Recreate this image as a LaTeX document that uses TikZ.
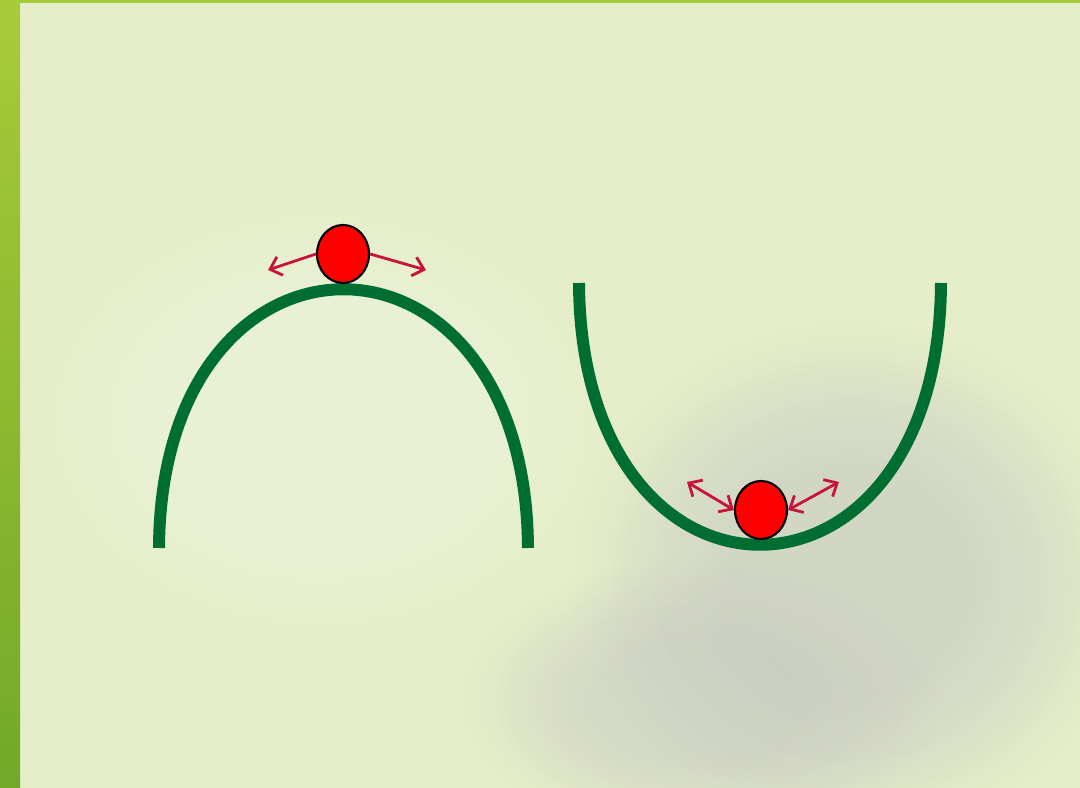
\documentclass[tikz,border=0pt]{standalone}
\usetikzlibrary{shapes.geometric,arrows.meta,fadings}
\definecolor{bgc}{HTML}{E5EEC9}
\definecolor{greyc}{HTML}{C9CBC3}
\definecolor{stripc}{HTML}{A8CB3A}
\definecolor{curvec}{HTML}{006E30}
\definecolor{arrc}{HTML}{C8143C}
\tikzset{
  curve/.style={draw=curvec, line width=12*0.02cm},
  ball/.style={ellipse, draw=black, line width=1.2pt, fill=red, minimum width=52*0.02cm, minimum height=58*0.02cm, inner sep=0pt},
  arr/.style={draw=arrc, line width=1.6pt, -{Straight Barb[length=6pt,width=11pt,line width=1.6pt]}},
  darr/.style={draw=arrc, line width=1.6pt, {Straight Barb[length=6pt,width=11pt,line width=1.6pt]}-{Straight Barb[length=6pt,width=11pt,line width=1.6pt]}},
  blob/.style={path fading=circle with fuzzy edge 20 percent}
}
\begin{document}
\begin{tikzpicture}[x=0.02cm,y=-0.02cm]
\useasboundingbox (0,0) rectangle (1080,788);
\fill[bgc] (0,0) rectangle (1080,788);
\foreach \s in {1.0,0.85,0.7,0.55} {
  \fill[greyc, blob, fill opacity=0.22] (850,580) ellipse ({280*\s} and {260*\s});
  \fill[greyc, blob, fill opacity=0.18] (700,700) ellipse ({240*\s} and {140*\s});
  \fill[white, blob, fill opacity=0.07] (320,420) ellipse ({300*\s} and {230*\s});
}
\fill[stripc] (0,0) rectangle (1080,3);
\shade[top color=stripc, bottom color=stripc!85!green!80!black] (0,0) rectangle (20,788);
% arch
\draw[curve] (159,548) .. controls (161,203) and (526,203) .. (528,548);
% valley
\draw[curve] (579,283) .. controls (581,632) and (939,632) .. (941,283);
% balls
\node[ball] (b1) at (343,254) {};
\node[ball] (b2) at (761,510) {};
\coordinate (a1) at (268,270);
\coordinate (a2) at (426,270);
\coordinate (a3) at (687,482);
\coordinate (a4) at (839,482);
\draw[arr] (b1.west) -- (a1);
\draw[arr] (b1.east) -- (a2);
\draw[darr] (b2.west) -- (a3);
\draw[darr] (b2.east) -- (a4);
\end{tikzpicture}
\end{document}
